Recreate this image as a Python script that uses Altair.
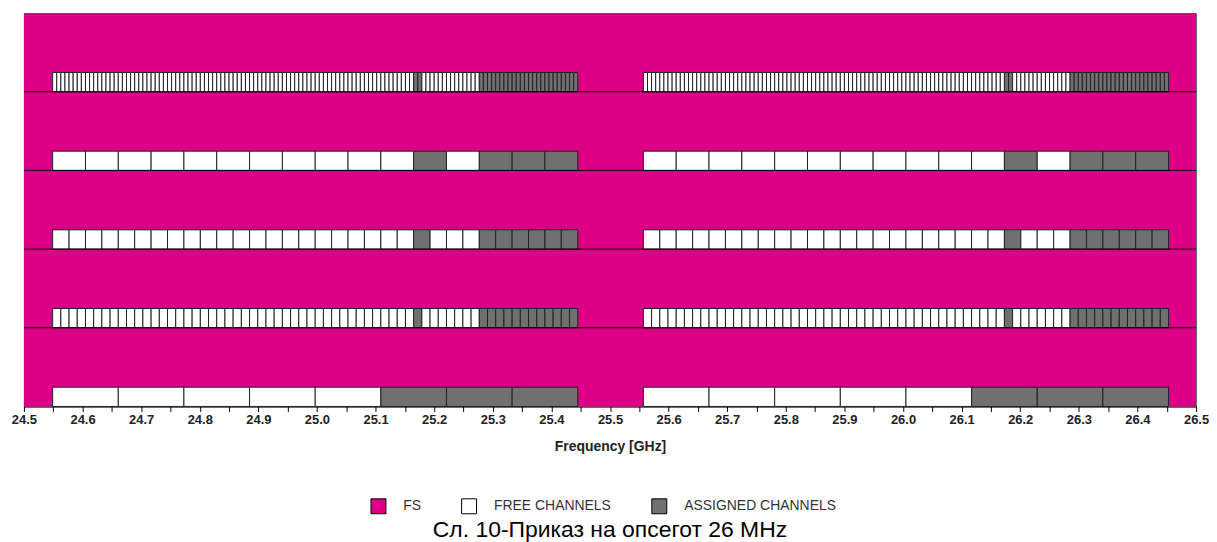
import altair as alt
import pandas as pd

# ---- data ----
x_domain = [24.5, 26.5]
block_starts_ghz = [24.549, 25.557]          # two 896 MHz blocks
block_width_mhz = 896
row_channel_mhz = [7, 56, 28, 14, 112]        # channel raster per row, top to bottom
row_assigned_idx = [                            # assigned channel indices inside each block
    [88, 89] + list(range(104, 128)),
    [11, 13, 14, 15],
    [22] + list(range(26, 32)),
    [44] + list(range(52, 64)),
    [5, 6, 7],
]
categories = ["FS", "FREE CHANNELS", "ASSIGNED CHANNELS"]
colors = ["#dc0086", "#ffffff", "#707070"]
row_separators = [1, 2, 3, 4]
strip_height = 0.245
n_rows = len(row_channel_mhz)

# ---- build tables ----
recs = []
for r, (w, assigned) in enumerate(zip(row_channel_mhz, row_assigned_idx)):
    base = n_rows - 1 - r
    n_ch = block_width_mhz // w
    for bs in block_starts_ghz:
        for k in range(n_ch):
            recs.append({
                "x": bs + k * w / 1000.0,
                "x2": bs + (k + 1) * w / 1000.0,
                "y": base,
                "y2": base + strip_height,
                "status": "ASSIGNED CHANNELS" if k in assigned else "FREE CHANNELS",
            })
chan_df = pd.DataFrame(recs)
bg_df = pd.DataFrame({"x": [x_domain[0]], "x2": [x_domain[1]], "y": [0], "y2": [n_rows], "status": ["FS"]})
sep_df = pd.DataFrame({"y": row_separators})

tick_vals = [round(24.5 + 0.05 * i, 2) for i in range(41)]

color_scale = alt.Scale(domain=categories, range=colors)
x_scale = alt.Scale(domain=x_domain, nice=False, zero=False)
y_scale = alt.Scale(domain=[0, n_rows], nice=False, zero=False)

x_axis = alt.Axis(
    values=tick_vals,
    labelExpr="round(datum.value*100) % 10 == 0 ? format(datum.value, '.1f') : ''",
    title="Frequency [GHz]",
    grid=False,
    tickSize=5,
    tickColor="#000",
    domainColor="#000",
    labelFont="Liberation Sans",
    labelFontSize=13,
    labelFontWeight="bold",
    labelColor="#222",
    labelPadding=2,
    labelFlush=False,
    labelOverlap=False,
    titleFont="Liberation Sans",
    titleFontSize=14,
    titleFontWeight="bold",
    titleColor="#222",
    titlePadding=13,
)

legend = alt.Legend(
    title=None,
    orient="none",
    legendX=348,
    legendY=487,
    direction="horizontal",
    symbolType="square",
    symbolSize=225,
    symbolStrokeColor="#000",
    symbolStrokeWidth=1,
    labelFont="Liberation Sans",
    labelFontSize=14,
    labelColor="#333",
    labelOffset=17,
    columnPadding=38,
    padding=0,
)

bg = alt.Chart(bg_df).mark_rect().encode(
    x=alt.X("x:Q", scale=x_scale, axis=x_axis),
    x2="x2:Q",
    y=alt.Y("y:Q", scale=y_scale, axis=None),
    y2="y2:Q",
    color=alt.Color("status:N", scale=color_scale, legend=legend),
)

chans = alt.Chart(chan_df).mark_rect(stroke="#222", strokeWidth=1).encode(
    x=alt.X("x:Q", scale=x_scale, axis=x_axis),
    x2="x2:Q",
    y=alt.Y("y:Q", scale=y_scale, axis=None),
    y2="y2:Q",
    color=alt.Color("status:N", scale=color_scale, legend=legend),
)

seps = alt.Chart(sep_df).mark_rule(color="#000", strokeWidth=1).encode(
    y=alt.Y("y:Q", scale=y_scale, axis=None),
)

chart = alt.layer(bg, chans, seps).properties(
    width=1177,
    height=395,
    autosize=alt.AutoSizeParams(type="none"),
    padding={"left": 16, "top": 4, "right": 13, "bottom": 135},
    title=alt.TitleParams(
        "Сл. 10-Приказ на опсегот 26 MHz",
        orient="bottom",
        anchor="middle",
        font="Liberation Sans",
        fontSize=23,
        fontWeight="normal",
        color="#000",
        offset=3,
    ),
).configure_view(stroke="#666", strokeWidth=1)

chart.save("out.html", embed_options={"renderer": "svg", "actions": False})
